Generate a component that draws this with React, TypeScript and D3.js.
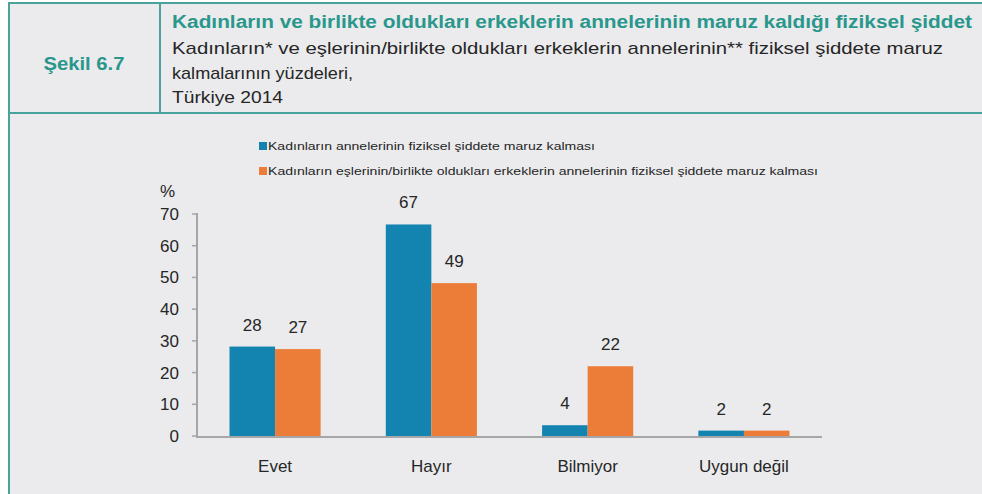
import React from "react";
import * as d3 from "d3";

const categories = ["Evet", "Hayır", "Bilmiyor", "Uygun değil"];
const seriesNames = [
  "Kadınların annelerinin fiziksel şiddete maruz kalması",
  "Kadınların eşlerinin/birlikte oldukları erkeklerin annelerinin fiziksel şiddete maruz kalması",
];
const motherValues = [28.2, 66.7, 3.4, 1.7];
const partnerMotherValues = [27.4, 48.2, 22.0, 1.7];
const motherLabels = ["28", "67", "4", "2"];
const partnerMotherLabels = ["27", "49", "22", "2"];
const yTicks = [0, 10, 20, 30, 40, 50, 60, 70];
const colors = ["#1383b0", "#ec7d38"];
const teal = "#2a978c";
const border = "#4aa39b";
const font = "'Liberation Sans', Arial, sans-serif";

export default function App() {
  const W = 982, H = 494;
  const x0 = 197, x1 = 822, yTop = 214, yBot = 436;
  const x = d3.scaleBand<string>().domain(categories).range([x0, x1]).paddingInner(0.417).paddingOuter(0.208);
  const xs = d3.scaleBand<number>().domain([0, 1]).range([0, x.bandwidth()]);
  const y = d3.scaleLinear().domain([0, 70]).range([yBot, yTop]);
  const series = [motherValues, partnerMotherValues];
  const labels = [motherLabels, partnerMotherLabels];
  return (
    <div style={{ position: "absolute", left: 0, top: 0 }}>
      <svg width={W} height={H} style={{ display: "block", fontFamily: font }}>
        <rect x={0} y={0} width={W} height={H} fill="#ffffff" />
        <rect x={8} y={3} width={W - 8} height={H - 3} fill="#ebebed" />
        {/* borders */}
        <line x1={8} y1={3} x2={W} y2={3} stroke={border} strokeWidth={2} />
        <line x1={8} y1={113} x2={W} y2={113} stroke={border} strokeWidth={2} />
        <line x1={9} y1={3} x2={9} y2={H} stroke={border} strokeWidth={2} />
        <line x1={160} y1={3} x2={160} y2={113} stroke={border} strokeWidth={2} />
        {/* header */}
        <text x={84} y={70} textAnchor="middle" fill={teal} fontWeight="bold" fontSize={18} textLength={81} lengthAdjust="spacingAndGlyphs">Şekil 6.7</text>
        <text x={172} y={28} fill={teal} fontWeight="bold" fontSize={18} textLength={800} lengthAdjust="spacingAndGlyphs">Kadınların ve birlikte oldukları erkeklerin annelerinin maruz kaldığı fiziksel şiddet</text>
        <text x={172} y={54} fill="#262626" fontSize={17} textLength={771} lengthAdjust="spacingAndGlyphs">Kadınların* ve eşlerinin/birlikte oldukları erkeklerin annelerinin** fiziksel şiddete maruz</text>
        <text x={172} y={79} fill="#262626" fontSize={17} textLength={181} lengthAdjust="spacingAndGlyphs">kalmalarının yüzdeleri,</text>
        <text x={172} y={103} fill="#262626" fontSize={17} textLength={111} lengthAdjust="spacingAndGlyphs">Türkiye 2014</text>
        {/* legend */}
        {seriesNames.map((n, i) => (
          <g key={n}>
            <rect x={259} y={142 + i * 25} width={8} height={8} fill={colors[i]} />
            <text x={268} y={150 + i * 25} fontSize={11.5} fill="#262626" textLength={i === 0 ? 327 : 550} lengthAdjust="spacingAndGlyphs">{n}</text>
          </g>
        ))}
        {/* y axis */}
        <text x={160} y={197} fontSize={17} fill="#262626">%</text>
        {yTicks.map((t) => (
          <g key={t}>
            <line x1={192} x2={197} y1={y(t)} y2={y(t)} stroke="#a6a6a6" strokeWidth={1.5} />
            <text x={179} y={y(t) + 6} textAnchor="end" fontSize={17} fill="#262626">{t}</text>
          </g>
        ))}
        {/* bars */}
        {categories.map((c, ci) => (
          <g key={c}>
            {series.map((vals, si) => (
              <g key={si}>
                <rect x={(x(c) as number) + (xs(si) as number)} y={y(vals[ci])} width={xs.bandwidth()} height={yBot - y(vals[ci])} fill={colors[si]} />
                <text x={(x(c) as number) + (xs(si) as number) + xs.bandwidth() / 2} y={y(vals[ci]) - 16} textAnchor="middle" fontSize={17} fill="#262626">{labels[si][ci]}</text>
              </g>
            ))}
            <text x={(x(c) as number) + x.bandwidth() / 2} y={472} textAnchor="middle" fontSize={17} fill="#262626">{c}</text>
          </g>
        ))}
        <line x1={x0} x2={x0} y1={yTop - 1} y2={yBot + 1} stroke="#a6a6a6" strokeWidth={2} />
        <line x1={x0 - 1} x2={x1} y1={yBot + 1} y2={yBot + 1} stroke="#a6a6a6" strokeWidth={2} />
      </svg>
    </div>
  );
}
